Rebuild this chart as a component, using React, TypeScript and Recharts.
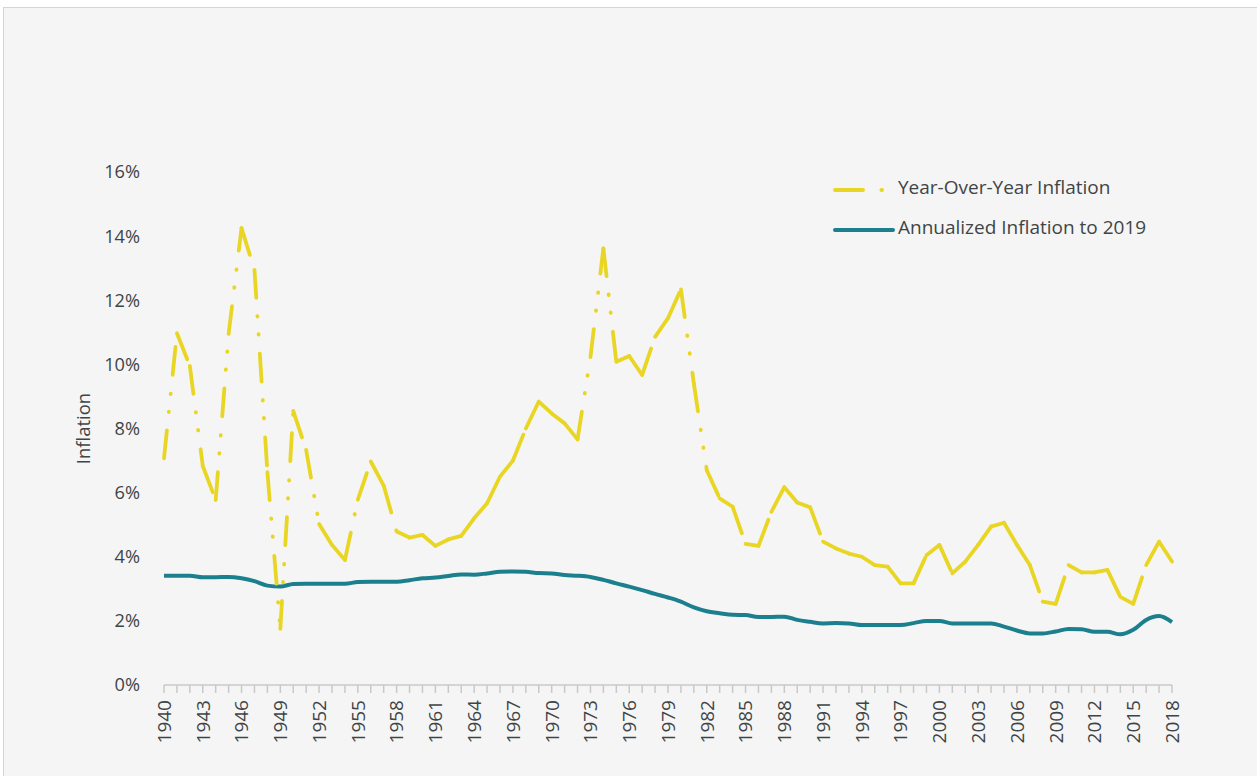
import React from 'react';
import { LineChart, Line, XAxis, YAxis, Legend } from 'recharts';

const years = [
  1940, 1941, 1942, 1943, 1944, 1945, 1946, 1947, 1948, 1949,
  1950, 1951, 1952, 1953, 1954, 1955, 1956, 1957, 1958, 1959,
  1960, 1961, 1962, 1963, 1964, 1965, 1966, 1967, 1968, 1969,
  1970, 1971, 1972, 1973, 1974, 1975, 1976, 1977, 1978, 1979,
  1980, 1981, 1982, 1983, 1984, 1985, 1986, 1987, 1988, 1989,
  1990, 1991, 1992, 1993, 1994, 1995, 1996, 1997, 1998, 1999,
  2000, 2001, 2002, 2003, 2004, 2005, 2006, 2007, 2008, 2009,
  2010, 2011, 2012, 2013, 2014, 2015, 2016, 2017, 2018,
];

const yoyInflation = [
  7.07, 10.97, 9.95, 6.83, 5.77, 10.95, 14.25, 12.95, 6.64, 1.75,
  8.55, 7.33, 5.02, 4.37, 3.9, 5.78, 6.97, 6.22, 4.79, 4.6,
  4.68, 4.34, 4.54, 4.65, 5.2, 5.67, 6.5, 7.0, 8.0, 8.84,
  8.47, 8.16, 7.66, 10.23, 13.62, 10.08, 10.26, 9.67, 10.86, 11.44,
  12.34, 9.4, 6.7, 5.82, 5.56, 4.4, 4.34, 5.4, 6.17, 5.69,
  5.54, 4.47, 4.26, 4.1, 4.0, 3.74, 3.69, 3.17, 3.17, 4.05,
  4.37, 3.48, 3.85, 4.37, 4.94, 5.06, 4.37, 3.74, 2.6, 2.53,
  3.74, 3.51, 3.51, 3.59, 2.75, 2.53, 3.74, 4.47, 3.85,
];

const annualizedTo2019 = [
  3.41, 3.41, 3.41, 3.36, 3.36, 3.37, 3.33, 3.24, 3.1, 3.07,
  3.15, 3.16, 3.16, 3.16, 3.16, 3.21, 3.22, 3.22, 3.22, 3.27,
  3.33, 3.35, 3.4, 3.45, 3.44, 3.48, 3.53, 3.54, 3.53, 3.49,
  3.48, 3.43, 3.41, 3.37, 3.28, 3.17, 3.07, 2.96, 2.84, 2.73,
  2.6, 2.42, 2.3, 2.24, 2.19, 2.18, 2.12, 2.12, 2.13, 2.03,
  1.97, 1.92, 1.93, 1.92, 1.87, 1.87, 1.87, 1.87, 1.93, 2.0,
  2.0, 1.92, 1.92, 1.92, 1.92, 1.82, 1.7, 1.61, 1.61, 1.67,
  1.75, 1.74, 1.66, 1.66, 1.58, 1.72, 2.03, 2.15, 1.96,
];

const yTicks = [0, 2, 4, 6, 8, 10, 12, 14, 16];
const labelYears = [
  1940, 1943, 1946, 1949, 1952, 1955, 1958, 1961, 1964, 1967, 1970, 1973, 1976,
  1979, 1982, 1985, 1988, 1991, 1994, 1997, 2000, 2003, 2006, 2009, 2012, 2015, 2018,
];

const seriesNames = ['Year-Over-Year Inflation', 'Annualized Inflation to 2019'];

const YELLOW = '#E9D624';
const TEAL = '#1C7F8D';
const TEXT = '#3F4546';
const FONT = "'Open Sans', 'Noto Sans', sans-serif";
const DASH = '28 18.5 0.5 17.5 0.5 19';

// each year-to-year segment is its own series so its dash pattern restarts at every point
const segKeys = years.slice(1).map((_, i) => `seg${i}`);
const data = years.map((year, j) => {
  const row: Record<string, number> = { year, annualized: annualizedTo2019[j] };
  if (j < years.length - 1) row[`seg${j}`] = yoyInflation[j];
  if (j > 0) row[`seg${j - 1}`] = yoyInflation[j];
  return row;
});

const YearTick = (props: any) => {
  const { x, y, payload } = props;
  if (!labelYears.includes(payload.value)) return <g />;
  const ay = y + 5;
  return (
    <text
      x={x}
      y={ay}
      transform={`rotate(-90, ${x}, ${ay})`}
      textAnchor="end"
      dy="0.36em"
      fontSize={19}
      fontFamily={FONT}
      fill={TEXT}
    >
      {payload.value}
    </text>
  );
};

const renderLegend = () => (
  <svg width={420} height={80} style={{ display: 'block' }}>
    <line x1={7} y1={22} x2={66} y2={22} stroke={YELLOW} strokeWidth={4} strokeDasharray={DASH} strokeLinecap="round" />
    <text x={70} y={19} dy="0.35em" fontSize={19} fontFamily={FONT} fill={TEXT}>{seriesNames[0]}</text>
    <line x1={7} y1={62} x2={65} y2={62} stroke={TEAL} strokeWidth={4} strokeLinecap="round" />
    <text x={70} y={59} dy="0.35em" fontSize={19} fontFamily={FONT} fill={TEXT}>{seriesNames[1]}</text>
  </svg>
);

const YLabel = (props: any) => {
  const { viewBox } = props;
  const cx = viewBox.x + 84;
  const cy = viewBox.y + viewBox.height / 2;
  return (
    <text
      x={cx}
      y={cy}
      transform={`rotate(-90, ${cx}, ${cy})`}
      textAnchor="middle"
      dy="0.35em"
      fontSize={18.5}
      fontFamily={FONT}
      fill={TEXT}
    >
      Inflation
    </text>
  );
};

export default function App() {
  return (
    <div style={{ position: 'absolute', left: 0, top: 0, width: 1257, height: 776, background: '#ffffff', overflow: 'hidden' }}>
      <div
        style={{
          position: 'absolute',
          left: 3,
          top: 7,
          width: 1260,
          height: 780,
          background: '#f5f5f5',
          borderTop: '1px solid #d4d4d4',
          borderLeft: '1px solid #d4d4d4',
        }}
      />
      <div style={{ position: 'absolute', left: 0, top: 0 }}>
        <LineChart width={1257} height={776} data={data} margin={{ top: 172, right: 85, bottom: 31, left: 0 }}>
          <XAxis
            dataKey="year"
            type="number"
            domain={[1940, 2018]}
            ticks={years}
            interval={0}
            height={60}
            tickSize={8}
            tickMargin={2}
            axisLine={{ stroke: '#c9c9c9', strokeWidth: 1.5 }}
            tickLine={{ stroke: '#c9c9c9', strokeWidth: 1.5 }}
            tick={<YearTick />}
          />
          <YAxis
            type="number"
            domain={[0, 16]}
            ticks={yTicks}
            width={164}
            axisLine={false}
            tickLine={false}
            tickSize={6}
            tickMargin={18}
            tickFormatter={(v: number) => `${v}%`}
            tick={{ fontSize: 18.2, fontFamily: FONT, fill: TEXT }}
            label={<YLabel />}
          />
          <Legend
            layout="horizontal"
            verticalAlign="middle"
            align="center"
            content={renderLegend}
            wrapperStyle={{ left: 828, top: 168, width: 420, height: 80 }}
          />
          <Line
            dataKey="annualized"
            name={seriesNames[1]}
            type="monotone"
            stroke={TEAL}
            strokeWidth={4}
            dot={false}
            activeDot={false}
            isAnimationActive={false}
          />
          {segKeys.map((k) => (
            <Line
              key={k}
              dataKey={k}
              type="linear"
              stroke={YELLOW}
              strokeWidth={3.8}
              strokeDasharray={DASH}
              strokeLinecap="round"
              strokeLinejoin="round"
              dot={false}
              activeDot={false}
              connectNulls={false}
              legendType="none"
              isAnimationActive={false}
            />
          ))}
        </LineChart>
      </div>
    </div>
  );
}
